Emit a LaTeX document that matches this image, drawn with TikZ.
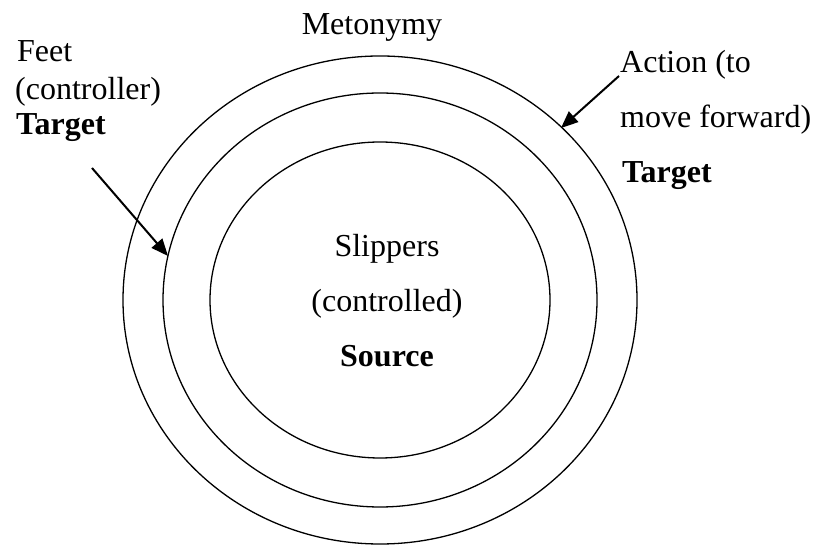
\documentclass[tikz,border=0pt]{standalone}
\usepackage{fontspec}
\setmainfont{Liberation Serif}
\usetikzlibrary{arrows.meta}
\begin{document}
\begin{tikzpicture}[x=1pt,y=1pt,
  ring/.style={draw=black,line width=1.3pt},
  pointer/.style={draw=black,line width=2pt,-{Triangle[length=17pt,width=14pt]}},
  lbl/.style={inner sep=0pt,font=\fontsize{32}{38}\selectfont},
  lblb/.style={lbl,font=\fontsize{32}{38}\selectfont\bfseries}]
\useasboundingbox (0,0) rectangle (813,545);
\fill[white] (0,0) rectangle (813,545);

% concentric rings
\coordinate (ctr) at (380,245);
\draw[ring] (ctr) ellipse [x radius=257, y radius=244];
\draw[ring] (ctr) ellipse [x radius=217, y radius=207];
\draw[ring] (ctr) ellipse [x radius=170, y radius=158];

% title
\node[lbl,anchor=base] (title) at (372,510) {Metonymy};

% left label
\node[lbl,anchor=base west] (feet) at (17,483) {Feet};
\node[lbl,anchor=base west] (ctrl) at (15,445) {(controller)};
\node[lblb,anchor=base west] (tgtl) at (16,410) {Target};

% right label
\node[lbl,anchor=base west] (act1) at (620,472) {Action (to};
\node[lbl,anchor=base west] (act2) at (620,417) {move forward)};
\node[lblb,anchor=base west] (tgtr) at (622,362) {Target};

% centre label
\node[lbl,anchor=base] (slip) at (387,288) {Slippers};
\node[lbl,anchor=base] (ctld) at (387,233) {(controlled)};
\node[lblb,anchor=base] (src) at (387,178) {Source};

% pointers onto the rings
\coordinate (lstart) at (92,377);
\coordinate (lend) at (168,289);
\coordinate (rstart) at (619,469);
\coordinate (rend) at (561,417);
\draw[pointer] (lstart) -- (lend);
\draw[pointer] (rstart) -- (rend);
\end{tikzpicture}
\end{document}
